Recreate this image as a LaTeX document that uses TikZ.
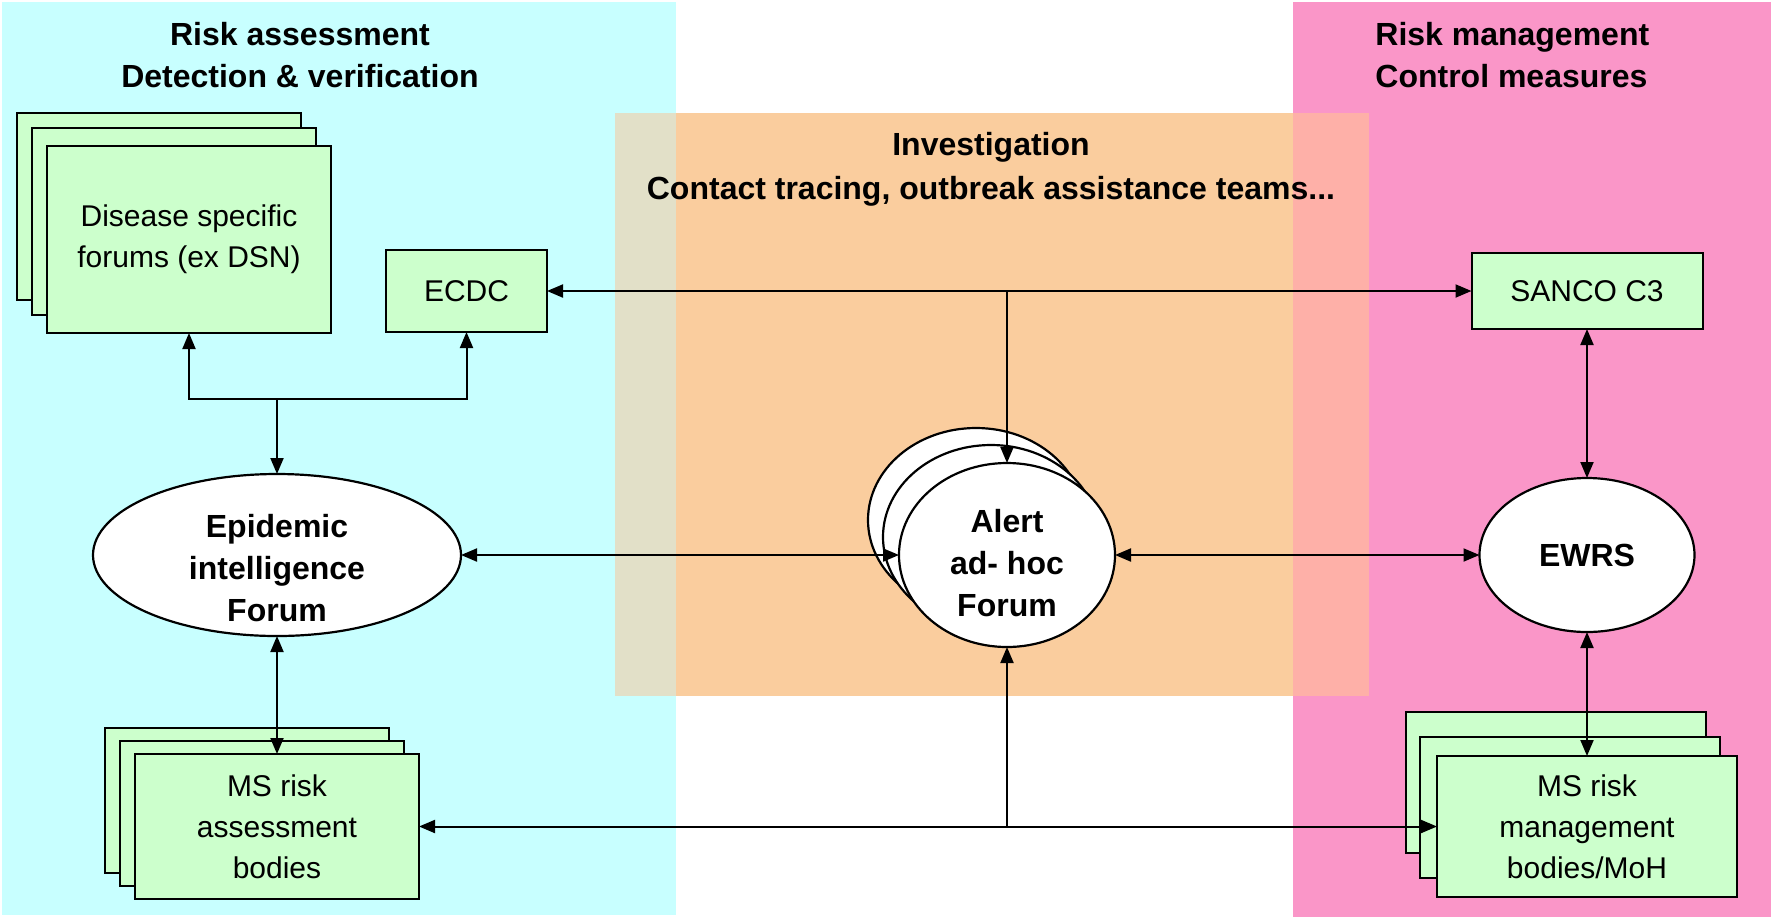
\documentclass[tikz,border=0pt]{standalone}
\usepackage{fontspec}
\setmainfont{Liberation Sans}
\usetikzlibrary{shapes.geometric,arrows.meta}
\definecolor{cyanbg}{HTML}{C8FFFF}
\definecolor{pinkbg}{HTML}{FA96C8}
\definecolor{orangebg}{HTML}{FACD9E}
\definecolor{beigebg}{HTML}{E2E0C8}
\definecolor{peachbg}{HTML}{FEB0A8}
\definecolor{boxgreen}{HTML}{CCFFCC}
\tikzset{
  box/.style={draw=black, line width=1pt, fill=boxgreen, rectangle, inner sep=0pt, outer sep=0pt,
    align=center, font=\fontsize{15}{20.5}\selectfont},
  ell/.style={draw=black, line width=1.1pt, fill=white, ellipse, inner sep=0pt, outer sep=0pt},
  boldtxt/.style={align=center, inner sep=0pt, font=\fontsize{16}{21}\selectfont\bfseries},
  conn/.style={line width=1pt, {Triangle[length=8pt,width=6.5pt]}-{Triangle[length=8pt,width=6.5pt]}},
  connone/.style={line width=1pt, -{Triangle[length=8pt,width=6.5pt]}},
}
\begin{document}
\begin{tikzpicture}[x=0.5pt,y=-0.5pt]
\useasboundingbox (0,0) rectangle (1773,917);
% panels
\fill[cyanbg] (2,2) rectangle (676,915);
\fill[pinkbg] (1293,2) rectangle (1771,917);
\fill[orangebg] (676,113) rectangle (1293,696);
\fill[beigebg] (615,113) rectangle (676,696);
\fill[peachbg] (1293,113) rectangle (1369,696);
% titles
\node[boldtxt] (tleft) at (300,55.5) {Risk assessment\\Detection \& verification};
\node[boldtxt, align=left, anchor=west] (tright) at (1375,55.5) {Risk management\\Control measures};
\node[boldtxt, font=\fontsize{16}{22}\selectfont\bfseries] (tmid) at (991,169) {Investigation\\Contact tracing, outbreak assistance teams...};
% disease specific forums stack
\node[box, minimum width=142pt, minimum height=93.5pt] (dis3) at (158.5,206) {};
\node[box, minimum width=142pt, minimum height=93.5pt] (dis2) at (174,221.5) {};
\node[box, minimum width=142pt, minimum height=93.5pt] (dis) at (189,239.5) {Disease specific\\forums (ex DSN)};
% ECDC, SANCO
\node[box, minimum width=80.5pt, minimum height=41pt] (ecdc) at (466.5,291) {ECDC};
\node[box, minimum width=115.5pt, minimum height=38pt] (sanco) at (1587,291) {SANCO C3};
% Epidemic intelligence forum
\node[ell, minimum width=184pt, minimum height=81pt] (epi) at (277,555) {};
\node[boldtxt] (epitext) at (277,568) {Epidemic\\intelligence\\Forum};
% Alert ad-hoc forum stack
\node[ell, minimum width=108pt, minimum height=92pt] (alert3) at (976,520) {};
\node[ell, minimum width=108pt, minimum height=92pt] (alert2) at (991,537) {};
\node[ell, minimum width=108pt, minimum height=92pt] (alert) at (1007,555) {};
\node[boldtxt] (alerttext) at (1007,563) {Alert\\ad- hoc\\Forum};
% EWRS
\node[ell, minimum width=107.5pt, minimum height=77pt, font=\fontsize{16}{21}\selectfont\bfseries] (ewrs) at (1587,555) {EWRS};
% MS risk assessment bodies stack
\node[box, minimum width=142pt, minimum height=72.5pt] (msa3) at (246.5,800.5) {};
\node[box, minimum width=142pt, minimum height=72.5pt] (msa2) at (261.5,813.5) {};
\node[box, minimum width=142pt, minimum height=72.5pt] (msa) at (277,826.5) {MS risk\\assessment\\bodies};
% MS risk management bodies stack
\node[box, minimum width=150pt, minimum height=70.5pt] (msm3) at (1556,782) {};
\node[box, minimum width=150pt, minimum height=70.5pt] (msm2) at (1570,807) {};
\node[box, minimum width=150pt, minimum height=70.5pt] (msm) at (1587,826.5) {MS risk\\management\\bodies/MoH};
% junction coordinates
\coordinate (jA) at (277,399);
\coordinate (jB) at (1007,291);
\coordinate (jC) at (1007,826.5);
% connectors
\draw[conn] (dis.south) |- (jA) -| (ecdc.south);
\draw[connone] (jA) -- (epi.north);
\draw[conn] (ecdc.east) -- (sanco.west);
\draw[connone] (jB) -- (alert.north);
\draw[conn] (epi.east) -- (alert.west);
\draw[conn] (alert.east) -- (ewrs.west);
\draw[conn] (sanco.south) -- (ewrs.north);
\draw[conn] (ewrs.south) -- (msm.north);
\draw[conn] (epi.south) -- (msa.north);
\draw[conn] (msa.east) -- (msm.west);
\draw[connone] (jC) -- (alert.south);
\end{tikzpicture}
\end{document}
